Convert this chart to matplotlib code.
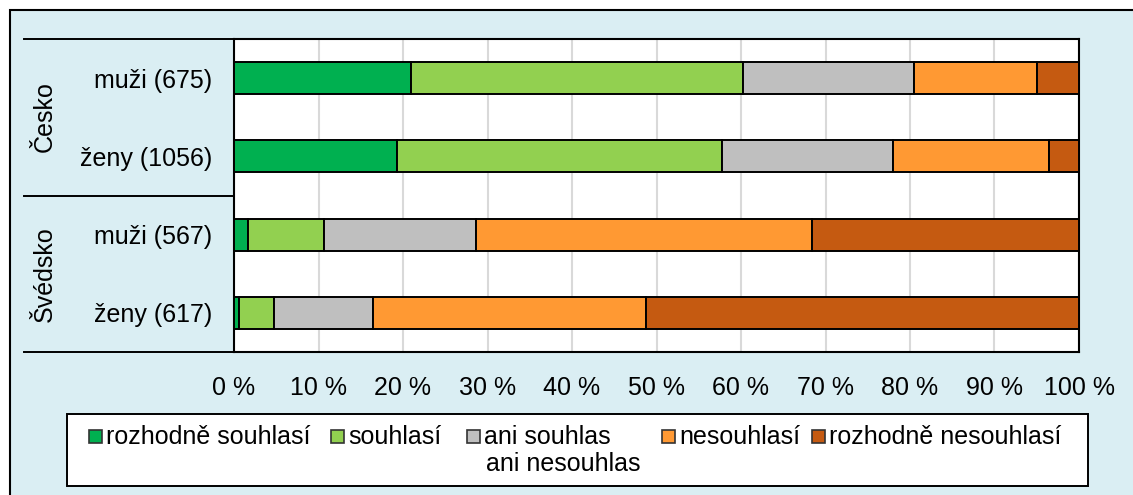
import numpy as np
import matplotlib
matplotlib.use('Agg')
import matplotlib.pyplot as plt
from matplotlib.lines import Line2D
from matplotlib.patches import Rectangle

plt.rcParams['font.family'] = ['Liberation Sans', 'DejaVu Sans']

# data (percent shares)
rows = ['muži (675)', 'ženy (1056)', 'muži (567)', 'ženy (617)']
groups = ['Česko', 'Švédsko']
categories = ['rozhodně souhlasí', 'souhlasí', 'ani souhlas\nani nesouhlas',
              'nesouhlasí', 'rozhodně nesouhlasí']
rozhodne_souhlasi = [20.9, 19.3, 1.7, 0.6]
souhlasi = [39.3, 38.4, 9.0, 4.1]
ani_ani = [20.3, 20.3, 17.9, 11.8]
nesouhlasi = [14.5, 18.4, 39.8, 32.3]
rozhodne_nesouhlasi = [5.0, 3.6, 31.6, 51.2]
xticks = np.arange(0, 101, 10)

colors = ['#00B050', '#92D050', '#BFBFBF', '#FF9933', '#C55A11']
bg = '#DAEEF3'
fs = 18

W, H = 1133, 495
fig = plt.figure(figsize=(W / 100, H / 100), dpi=100, facecolor='white')

def fx(x):
    return x / W

def fy(y):
    return 1 - y / H

# outer frame
fig.add_artist(Rectangle((fx(10), fy(500)), fx(1140) - fx(10), fy(10) - fy(500),
                         transform=fig.transFigure, facecolor=bg,
                         edgecolor='black', lw=1.5, zorder=0))

ax = fig.add_axes([fx(234), fy(352), fx(1079) - fx(234), fy(39) - fy(352)])
ax.set_facecolor('white')

series = [rozhodne_souhlasi, souhlasi, ani_ani, nesouhlasi, rozhodne_nesouhlasi]
ypos = np.arange(len(rows))
left = np.zeros(len(rows))
for vals, col, lab in zip(series, colors, categories):
    ax.barh(ypos, vals, left=left, height=0.41, color=col, edgecolor='black',
            lw=1.4, label=lab, zorder=3)
    left += np.array(vals)

ax.set_xlim(0, 100)
ax.set_ylim(3.5, -0.5)
ax.set_xticks(xticks)
ax.set_xticklabels(['%d %%' % v for v in xticks], fontsize=fs)
ax.set_yticks(ypos)
ax.set_yticklabels(rows, fontsize=fs)
ax.tick_params(axis='both', length=0)
ax.tick_params(axis='y', pad=16)
ax.tick_params(axis='x', pad=17)
ax.grid(axis='x', color='#D9D9D9', lw=1.5, zorder=0)
ax.set_axisbelow(True)
for s in ax.spines.values():
    s.set_color('black')
    s.set_linewidth(1.5)

# category group lines and labels
for yy in [39, 196, 352]:
    fig.add_artist(Line2D([fx(24), fx(234)], [fy(yy), fy(yy)],
                          transform=fig.transFigure, color='black', lw=1.4))
fig.text(fx(45), fy(117), groups[0], rotation=90, ha='center', va='center', fontsize=fs)
fig.text(fx(45), fy(274), groups[1], rotation=90, ha='center', va='center', fontsize=fs)

# legend
fig.add_artist(Rectangle((fx(67), fy(486)), fx(1088) - fx(67), fy(414) - fy(486),
                         transform=fig.transFigure, facecolor='white',
                         edgecolor='black', lw=1.4, zorder=2))
handle_x = [89, 331, 467, 662, 812]
for hx, col, lab in zip(handle_x, colors, categories):
    fig.add_artist(Rectangle((fx(hx), fy(443)), fx(13), 13 / H,
                             transform=fig.transFigure, facecolor=col,
                             edgecolor='#333333', lw=1.2, zorder=3))
    first, *rest = lab.split('\n')
    fig.text(fx(hx + 17), fy(437), first, ha='left', va='center', fontsize=fs, zorder=4)
    if rest:
        fig.text(fx(563), fy(464), rest[0], ha='center', va='center', fontsize=fs, zorder=4)

fig.savefig('out.png', dpi=100, facecolor=fig.get_facecolor())
